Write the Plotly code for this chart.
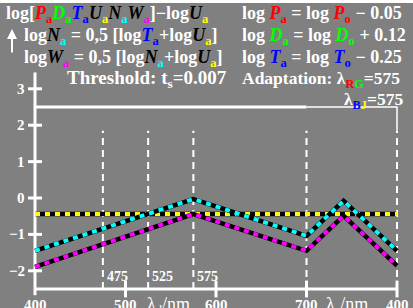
import plotly.graph_objects as go

# ---- data ----
x_nodes = [400, 575, 700, 741, 800]          # internal x (800 == 400 nm on the purple side)
cyan_vals = [-1.45, -0.03, -1.04, -0.08, -1.45]
magenta_vals = [-1.89, -0.44, -1.45, -0.49, -1.86]
yellow_x = [400, 800]
yellow_vals = [-0.44, -0.44]
vline_x = [475, 525, 575, 700, 800]
vline_labels = ["475", "525", "575"]
ytick_vals = [3, 2, 1, 0, -1, -2]
ytick_text = ["3", "2", "1", "0", "−1", "−2"]
xtick_vals = [400, 500, 600, 700, 800]
xtick_text = ["400", "500", "600", "700", "400"]

W, H = 413, 308
X0PX, XS = 35.0, 0.905       # pixel of x=400, px per nm
Y0PX, YS = 198.0, 36.4       # pixel of y=0, px per unit
xr = [400 - X0PX / XS, 400 + (W - X0PX) / XS]
yr = [(Y0PX - H) / YS, Y0PX / YS]

FONT = "Liberation Serif"
WHITE = "#ffffff"
fig = go.Figure()

def line(xs, ys, color, width, dash=None):
    fig.add_trace(go.Scatter(x=xs, y=ys, mode="lines",
                             line=dict(color=color, width=width, dash=dash),
                             hoverinfo="skip", showlegend=False))

# dashed verticals
for xv in vline_x:
    line([xv, xv], [-2.5, 1.85], WHITE, 2, "7px,5px")
# top frame line at 2.5
line([400, 700], [2.5, 2.5], WHITE, 3)
line([700, 800, 800], [2.5, 2.5, 1.85], WHITE, 1.5)
# axes
line([400, 400], [-2.67, 3.45], WHITE, 3)
line([400, 800], [-2.5, -2.5], WHITE, 3)
# tick marks
fig.add_trace(go.Scatter(x=[400] * len(ytick_vals), y=ytick_vals, mode="markers",
                         marker=dict(symbol="line-ew", size=10, line=dict(color=WHITE, width=3)),
                         cliponaxis=False, hoverinfo="skip", showlegend=False))
fig.add_trace(go.Scatter(x=xtick_vals[1:], y=[-2.5] * 4, mode="markers",
                         marker=dict(symbol="line-ns", size=12, line=dict(color=WHITE, width=3)),
                         cliponaxis=False, hoverinfo="skip", showlegend=False))

# data lines: black under, colored dashes on top
for ys, xs, col in [(yellow_vals, yellow_x, "#ffff00"),
                    (cyan_vals, x_nodes, "#00ffff"),
                    (magenta_vals, x_nodes, "#ff00ff")]:
    line(xs, ys, "#000000", 4.5)
    line(xs, ys, col, 4, "5px,5px")

ann = []
def txt(x, y, s, size=15, xanchor="left", yanchor="middle", xref="x", yref="y", color=WHITE):
    ann.append(dict(x=x, y=y, xref=xref, yref=yref, text=s, showarrow=False,
                    xanchor=xanchor, yanchor=yanchor,
                    font=dict(family=FONT, size=size, color=color)))

# y tick labels
for v, t in zip(ytick_vals, ytick_text):
    txt(400 - 8 / XS, v, "<b>" + t + "</b>", 15, xanchor="right")
# x tick labels
for v, t in zip(xtick_vals, xtick_text):
    txt(v, -2.5 - 6 / YS, "<b>" + t + "</b>", 15, xanchor="center", yanchor="top")
# vline labels
for v, t in zip(vline_x[:3], vline_labels):
    txt(v + 2 / XS, -2.17, "<b>" + t + "</b>", 14)
# axis titles
txt(547, -2.5 - 3 / YS, "λ<sub>d</sub>/nm", 18, xanchor="center", yanchor="top")
txt(745, -2.5 - 3 / YS, "λ<sub>c</sub>/nm", 18, xanchor="center", yanchor="top")

def c(col, s):
    return "<span style='color:%s'>%s</span>" % (col, s)

def sym(letter, col, sub, subcol):
    return c(col, "<i>" + letter + "</i>") + c(subcol, "<sub>" + sub + "</sub>")

R, G, B, Y, C, M, K = "#ff0000", "#00ff00", "#0000ff", "#ffff00", "#00ffff", "#ff00ff", "#000000"

def ptxt(px, py, s, size=18, xanchor="left"):
    txt(px / W, 1 - py / H, "<b>" + s + "</b>", size, xanchor=xanchor, xref="paper", yref="paper")

l1 = ("log[" + sym("P", R, "a", R) + sym("D", G, "a", G) + sym("T", B, "a", B)
      + sym("U", K, "a", Y) + sym("N", K, "a", C) + sym("W", K, "a", M) + "]−log" + sym("U", K, "a", Y))
ptxt(4, 15, l1)
ptxt(22, 37, "log" + sym("N", K, "a", C) + " = 0,5 [log" + sym("T", B, "a", B) + "+log" + sym("U", K, "a", Y) + "]")
ptxt(22, 58, "log" + sym("W", K, "a", M) + " = 0,5 [log" + sym("N", K, "a", C) + "+log" + sym("U", K, "a", Y) + "]")
ptxt(240, 15, "log " + sym("P", R, "a", R) + " = log " + sym("P", R, "o", R) + " − 0.05", 18)
ptxt(240, 37, "log " + sym("D", G, "a", G) + " = log " + sym("D", G, "o", G) + " + 0.12", 18)
ptxt(240, 58, "log " + sym("T", B, "a", B) + " = log " + sym("T", B, "o", B) + " − 0.25", 18)
ptxt(65, 79, "Threshold: t<sub>s</sub>=0.007", 19)
ptxt(240, 79, "Adaptation: λ" + c(R, "<sub>R</sub>") + c(G, "<sub>G</sub>") + "=575", 17.5)
ptxt(342, 100, "λ" + c(B, "<sub>B</sub>") + c(Y, "<sub>J</sub>") + "=575", 17.5)

# small up arrow at left
ann.append(dict(x=12 / W, y=1 - 29 / H, xref="paper", yref="paper", ax=0, ay=25,
                showarrow=True, arrowhead=2, arrowsize=1, arrowwidth=2, arrowcolor=WHITE, text=""))

fig.update_layout(
    width=W, height=H, margin=dict(l=0, r=0, t=0, b=0),
    paper_bgcolor="#808080", plot_bgcolor="#808080",
    xaxis=dict(range=xr, domain=[0, 1], visible=False, fixedrange=True),
    yaxis=dict(range=yr, domain=[0, 1], visible=False, fixedrange=True),
    annotations=ann,
    shapes=[dict(type="rect", xref="paper", yref="paper", x0=0, x1=1, y0=1 - 3 / H, y1=1,
                 fillcolor=WHITE, line=dict(width=0), layer="above")],
    showlegend=False,
)
fig.write_html("out.html", config={"displayModeBar": False},
               post_script="document.body.style.margin='0';document.body.style.overflow='hidden';")
